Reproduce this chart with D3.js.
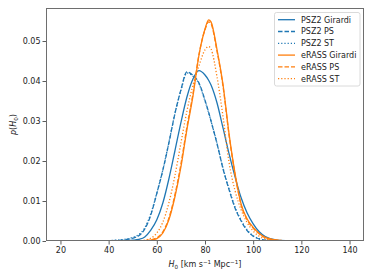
<!DOCTYPE html>
<html>
<head>
<meta charset="utf-8">
<script src="https://cdn.jsdelivr.net/npm/d3@7"></script>
<style>
  body { margin: 0; background: #fff; }
  svg { display: block; font-family: "DejaVu Sans", sans-serif; }
</style>
</head>
<body>
<div id="chart"></div>
<script>
// H0 grid (km/s/Mpc)
const h0 = [20, 30, 40, 45, 47.5, 50, 52.5, 55, 57.5, 60, 62.5, 65, 67.5, 70, 72.5, 75, 77.5, 80, 81.5, 82.5, 85, 87.5, 90, 92.5, 95, 97.5, 100, 102.5, 105, 110, 115, 120, 130, 140]

// posterior values
const psz2Girardi = [0, 0, 0.00001, 0.00005, 0.0001, 0.0002, 0.0004, 0.0010, 0.0027, 0.0053, 0.0095, 0.0155, 0.0225, 0.0296, 0.0360, 0.0405, 0.0426, 0.0415, 0.0402, 0.0390, 0.0345, 0.0282, 0.0218, 0.0160, 0.0108, 0.0070, 0.0043, 0.0023, 0.0011, 0.0002, 0.00004, 0, 0, 0]
const psz2PS = [0, 0, 0.00005, 0.0002, 0.0004, 0.0007, 0.0013, 0.0030, 0.0065, 0.0119, 0.0177, 0.0245, 0.0318, 0.0378, 0.0423, 0.0414, 0.0395, 0.0352, 0.0322, 0.0300, 0.0243, 0.0180, 0.0128, 0.0082, 0.0050, 0.0026, 0.0012, 0.0005, 0.0002, 0.00004, 0, 0, 0, 0]
const psz2ST = [0, 0.00001, 0.0001, 0.0003, 0.0005, 0.0009, 0.0016, 0.0033, 0.0068, 0.0120, 0.0178, 0.0246, 0.0318, 0.0376, 0.0420, 0.0412, 0.0393, 0.0350, 0.0321, 0.0300, 0.0244, 0.0182, 0.0130, 0.0084, 0.0052, 0.0028, 0.0013, 0.0006, 0.0002, 0.00005, 0, 0, 0, 0]
const erassGirardi = [0, 0, 0, 0, 0, 0.00001, 0.00003, 0.00006, 0.0002, 0.0006, 0.0020, 0.0053, 0.0110, 0.0185, 0.0279, 0.0362, 0.0465, 0.0530, 0.0553, 0.0548, 0.0478, 0.0390, 0.0267, 0.0168, 0.0092, 0.0055, 0.0034, 0.0019, 0.0009, 0.0002, 0.00003, 0, 0, 0]
const erassPS = [0, 0, 0, 0, 0, 0.00001, 0.00003, 0.0001, 0.0003, 0.0008, 0.0023, 0.0057, 0.0115, 0.0192, 0.0285, 0.0368, 0.0466, 0.0528, 0.0548, 0.0543, 0.0474, 0.0386, 0.0264, 0.0165, 0.0090, 0.0053, 0.0032, 0.0018, 0.0008, 0.0002, 0.00002, 0, 0, 0]
const erassST = [0, 0, 0, 0, 0, 0.00002, 0.00005, 0.0002, 0.0007, 0.0020, 0.0047, 0.0095, 0.0163, 0.0245, 0.0325, 0.0390, 0.0438, 0.0478, 0.0486, 0.0480, 0.0410, 0.0310, 0.0196, 0.0125, 0.0078, 0.0046, 0.0025, 0.0012, 0.0005, 0.0001, 0, 0, 0, 0]

const xTicks = [20, 40, 60, 80, 100, 120, 140]
const yTicks = [0, 0.01, 0.02, 0.03, 0.04, 0.05]

const blue = '#1f77b4'
const orange = '#ff7f0e'
const series = [
  { name: 'PSZ2 Girardi', values: psz2Girardi, color: blue, dash: null },
  { name: 'PSZ2 PS', values: psz2PS, color: blue, dash: '4.5,2' },
  { name: 'PSZ2 ST', values: psz2ST, color: blue, dash: '1.2,2' },
  { name: 'eRASS Girardi', values: erassGirardi, color: orange, dash: null },
  { name: 'eRASS PS', values: erassPS, color: orange, dash: '4.5,2' },
  { name: 'eRASS ST', values: erassST, color: orange, dash: '1.2,2' }
]

const width = 373, height = 280
const margin = { left: 46, right: 9, top: 8, bottom: 39 }

const svg = d3.select('#chart').append('svg')
  .attr('width', width)
  .attr('height', height)

const x = d3.scaleLinear().domain([14, 146]).range([margin.left, width - margin.right])
const y = d3.scaleLinear().domain([0, 0.05825]).range([height - margin.bottom, margin.top])

const line = d3.line()
  .x((d, i) => x(h0[i]))
  .y(d => y(d))
  .curve(d3.curveMonotoneX)

const plot = svg.append('g')
plot.append('clipPath').attr('id', 'clip')
  .append('rect')
  .attr('x', margin.left).attr('y', margin.top)
  .attr('width', width - margin.left - margin.right)
  .attr('height', height - margin.top - margin.bottom)

plot.selectAll('path.series')
  .data(series)
  .enter().append('path')
  .attr('class', 'series')
  .attr('clip-path', 'url(#clip)')
  .attr('d', d => line(d.values))
  .attr('fill', 'none')
  .attr('stroke', d => d.color)
  .attr('stroke-width', 1.3)
  .attr('stroke-dasharray', d => d.dash)

// axes
const xAxis = svg.append('g')
  .attr('transform', `translate(0,${height - margin.bottom})`)
  .call(d3.axisBottom(x).tickValues(xTicks).tickSize(3.5).tickFormat(d3.format('d')))
const yAxis = svg.append('g')
  .attr('transform', `translate(${margin.left},0)`)
  .call(d3.axisLeft(y).tickValues(yTicks).tickSize(3.5).tickFormat(d3.format('.2f')))

;[xAxis, yAxis].forEach(a => {
  a.select('.domain').remove()
  a.selectAll('.tick line').attr('stroke', '#333').attr('stroke-width', 0.8)
  a.selectAll('.tick text').attr('fill', '#222').style('font-size', '8px').style('font-family', '"DejaVu Sans", sans-serif')
})
xAxis.selectAll('.tick text').attr('y', 6).attr('dy', '0.71em')
yAxis.selectAll('.tick text').attr('x', -5.5)

// frame
svg.append('rect')
  .attr('x', margin.left + 0.5).attr('y', margin.top + 0.5)
  .attr('width', width - margin.left - margin.right - 1)
  .attr('height', height - margin.top - margin.bottom - 1)
  .attr('fill', 'none')
  .attr('stroke', '#6e6e6e')
  .attr('stroke-width', 1)

// axis labels
const xl = svg.append('text')
  .attr('x', (margin.left + width - margin.right) / 2)
  .attr('y', 267)
  .attr('text-anchor', 'middle')
  .attr('fill', '#222')
  .style('font-size', '8px')
xl.append('tspan').style('font-style', 'italic').text('H')
xl.append('tspan').attr('dy', 1.5).style('font-size', '5.6px').text('0')
xl.append('tspan').attr('dy', -1.5).text(' [km s')
xl.append('tspan').attr('dy', -3).style('font-size', '5.6px').text('−1')
xl.append('tspan').attr('dy', 3).text(' Mpc')
xl.append('tspan').attr('dy', -3).style('font-size', '5.6px').text('−1')
xl.append('tspan').attr('dy', 3).text(']')

const yl = svg.append('text')
  .attr('transform', `translate(16,${(margin.top + height - margin.bottom) / 2}) rotate(-90)`)
  .attr('text-anchor', 'middle')
  .attr('fill', '#222')
  .style('font-size', '8px')
yl.append('tspan').style('font-style', 'italic').text('p')
yl.append('tspan').text('(')
yl.append('tspan').style('font-style', 'italic').text('H')
yl.append('tspan').attr('dy', 1.5).style('font-size', '5.6px').text('0')
yl.append('tspan').attr('dy', -1.5).text(')')

// legend
const legend = svg.append('g')
legend.append('rect')
  .attr('x', 274.5).attr('y', 12.5)
  .attr('width', 85.5).attr('height', 73.5)
  .attr('rx', 2)
  .attr('fill', '#fff').attr('fill-opacity', 0.8)
  .attr('stroke', '#d0d0d0').attr('stroke-width', 0.8)

const items = legend.selectAll('g.item')
  .data(series)
  .enter().append('g')
  .attr('class', 'item')
  .attr('transform', (d, i) => `translate(0,${19.7 + i * 11.8})`)

items.append('line')
  .attr('x1', 278).attr('x2', 295)
  .attr('stroke', d => d.color)
  .attr('stroke-width', 1.3)
  .attr('stroke-dasharray', d => d.dash)

items.append('text')
  .attr('x', 301)
  .attr('dy', '0.35em')
  .attr('fill', '#222')
  .style('font-size', '8px')
  .text(d => d.name)
</script>
</body>
</html>
